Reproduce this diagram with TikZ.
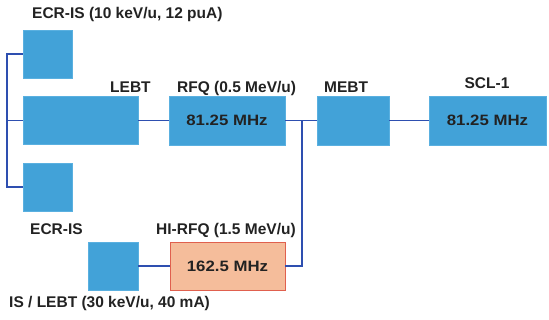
\documentclass[tikz,border=0pt]{standalone}
\usepackage{fontspec}
\setmainfont{Liberation Sans}
\newfontfamily\boxfont[FakeStretch=1.12]{Liberation Sans}
\definecolor{boxblue}{HTML}{42A2D8}
\definecolor{boxedge}{HTML}{5AB0E0}
\definecolor{linkblue}{HTML}{2E4FB0}
\definecolor{hifill}{HTML}{F5BD9B}
\definecolor{hiedge}{HTML}{E0604E}
\definecolor{txt}{HTML}{222222}
\tikzset{
  blk/.style={draw=boxedge, fill=boxblue, line width=0.8pt, inner sep=0pt, font=\boxfont\fontsize{15}{18}\selectfont\bfseries, text=txt},
  hiblk/.style={blk, draw=hiedge, fill=hifill},
  lbl/.style={inner sep=0pt, anchor=base west, font=\fontsize{15.5}{19}\selectfont\bfseries, text=txt},
  link/.style={draw=linkblue, line width=1.4pt}
}
\begin{document}
\begin{tikzpicture}[x=1pt,y=-1pt]
\useasboundingbox (0,0) rectangle (549,320);
% boxes
\node[blk, minimum width=49pt, minimum height=48pt] (ecr1) at (47.5,54) {};
\node[blk, minimum width=115pt, minimum height=48pt] (lebt) at (80.5,120.5) {};
\node[blk, minimum width=49pt, minimum height=48pt] (ecr3) at (48,187) {};
\node[blk, minimum width=116pt, minimum height=49pt] (rfq) at (227,120.5) {81.25 MHz};
\node[blk, minimum width=72pt, minimum height=49pt] (mebt) at (353,120.5) {};
\node[blk, minimum width=117pt, minimum height=49pt] (scl) at (487.5,120.5) {81.25 MHz};
\node[blk, minimum width=50pt, minimum height=48pt] (islebt) at (113,266) {};
\node[hiblk, minimum width=115pt, minimum height=48pt] (hirfq) at (227.5,266) {162.5 MHz};
% connectors
\coordinate (tt) at (7,54);
\coordinate (tb) at (7,187);
\coordinate (j) at (302,120.5);
\draw[link] (ecr1.west) -- (tt) -- (tb) -- (ecr3.west);
\draw[link] (lebt.west) -- (lebt.west -| tt);
\draw[link] (lebt.east) -- (rfq.west);
\draw[link] (rfq.east) -- (mebt.west);
\draw[link] (mebt.east) -- (scl.west);
\draw[link] (islebt.east) -- (hirfq.west);
\draw[link] (hirfq.east) -| (j);
% labels
\node[lbl] (l1) at (32,18.5) {ECR-IS (10 keV/u, 12 puA)};
\node[lbl] (l2) at (110,93) {LEBT};
\node[lbl] (l3) at (177,93) {RFQ (0.5 MeV/u)};
\node[lbl] (l4) at (324,93) {MEBT};
\node[lbl, anchor=base] (l5) at (487,89) {SCL-1};
\node[lbl] (l6) at (30,235) {ECR-IS};
\node[lbl] (l7) at (156,235) {HI-RFQ (1.5 MeV/u)};
\node[lbl] (l8) at (9,308) {IS / LEBT (30 keV/u, 40 mA)};
\end{tikzpicture}
\end{document}
